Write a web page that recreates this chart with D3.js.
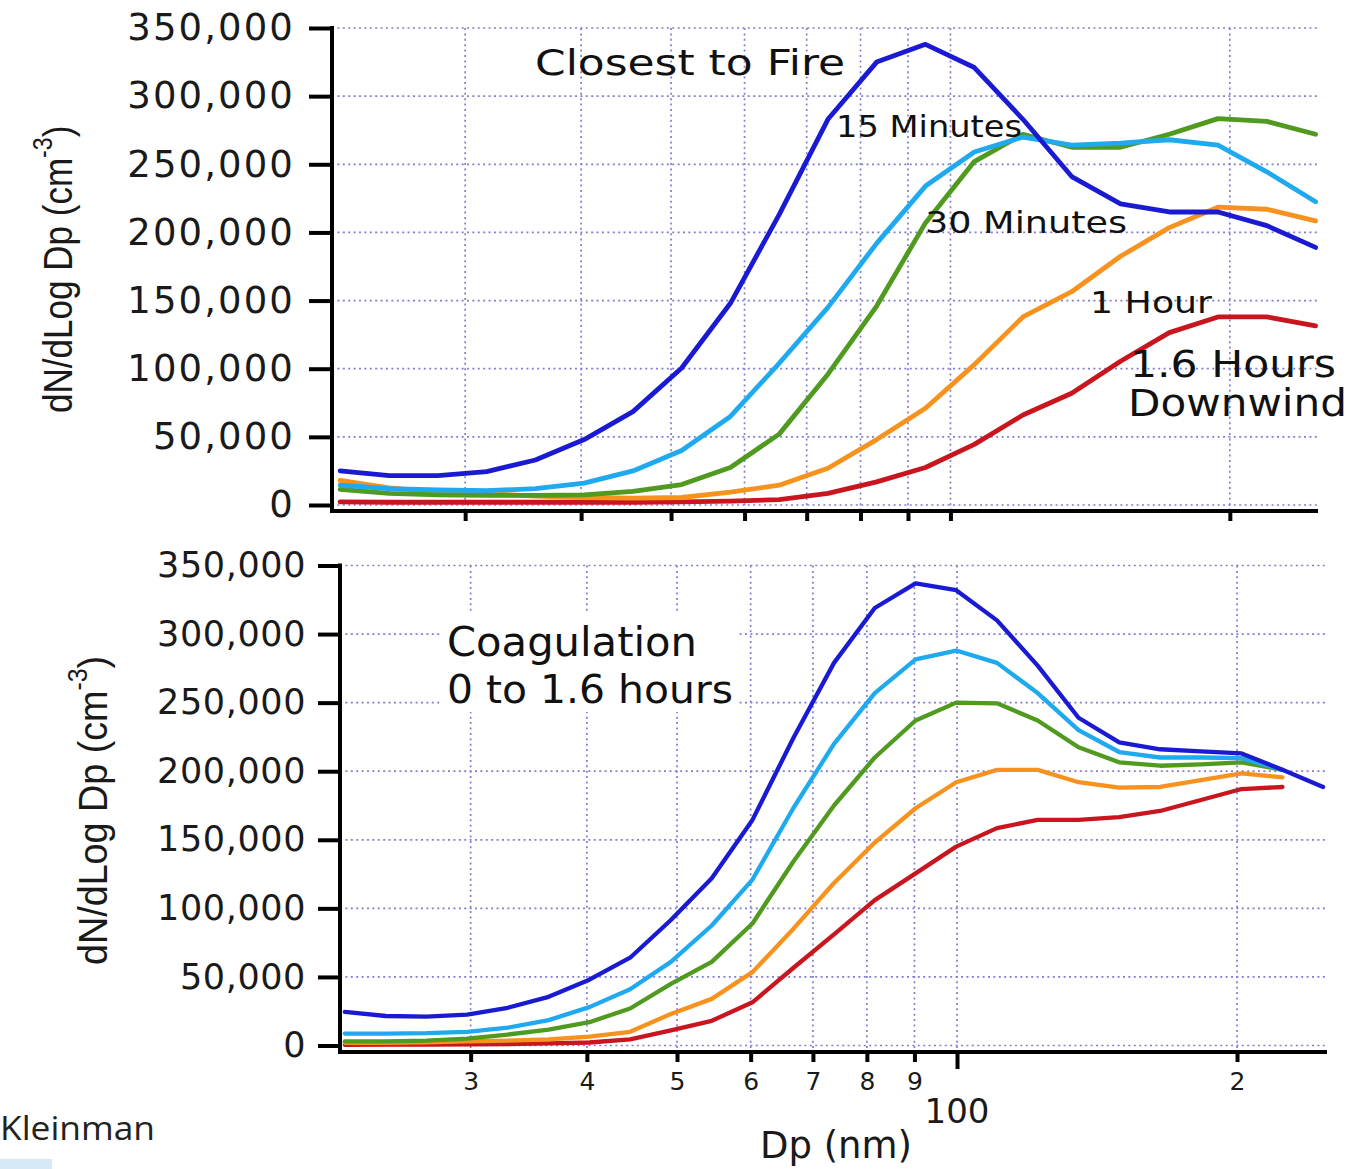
<!DOCTYPE html>
<html>
<head>
<meta charset="utf-8">
<script src="https://cdnjs.cloudflare.com/ajax/libs/d3/7.8.5/d3.min.js"></script>
<style>
  html, body { margin: 0; padding: 0; background: #ffffff; }
  svg { display: block; }
</style>
</head>
<body>
<svg id="chart" width="1351" height="1169"></svg>
<script>
// ---- Particle size distributions, dN/dLog Dp (cm^-3) versus mobility diameter Dp (nm) ----

// Upper panel: measured spectra at increasing distance downwind of the fire
const topDiameters = [22.0, 24.85, 28.04, 31.64, 35.71, 40.30, 45.49, 51.33, 57.93, 65.38, 73.79,
                      83.27, 93.99, 106.1, 119.7, 135.1, 152.5, 172.1, 194.2, 219.2, 247.4];
const topClosest = [25000, 21500, 21500, 24500, 33000, 48000, 68500, 100500, 148000, 213000, 283000,
                    325000, 338000, 321000, 283000, 241000, 221000, 215000, 215000, 205000, 189000];
const top15Minutes = [14500, 12000, 11000, 10500, 12000, 16000, 25000, 40000, 65000, 104000, 145000,
                      192000, 234000, 259000, 270000, 264000, 265500, 268000, 264000, 244500, 222500];
const top30Minutes = [11500, 8500, 7500, 7000, 7000, 7500, 10000, 15000, 27500, 52000, 96000,
                      146000, 207000, 252000, 272000, 262500, 262500, 272000, 283500, 281500, 272000];
const top1Hour = [18000, 12500, 9500, 8500, 6500, 5500, 5000, 5500, 9500, 14500, 27000,
                  48000, 71000, 103000, 138000, 156500, 182500, 203500, 218500, 217000, 208500];
const top16Hours = [2300, 2000, 2000, 2000, 2000, 2000, 2000, 2300, 2800, 4000, 8500,
                    17000, 27500, 44500, 66000, 82000, 105500, 126500, 138000, 138000, 131500];

// Lower panel: coagulation model, 0 to 1.6 hours
const bottomDiameters = [21.97, 24.31, 26.89, 29.74, 32.89, 36.39, 40.25, 44.52, 49.25, 54.49, 60.27,
                         66.67, 73.75, 81.58, 90.25, 99.8, 110.4, 122.1, 135.1, 149.4, 165.3,
                         182.9, 202.3, 223.8, 247.5];
const coag0 = [24500, 21500, 21000, 22500, 27500, 35500, 48000, 64000, 91500, 122000, 164500,
               224000, 279000, 319000, 337000, 332000, 310000, 277000, 239000, 221000, 216000,
               214500, 213000, 201000, 188500];
const coag1 = [8700, 8700, 9000, 10000, 13000, 18500, 28000, 41000, 61000, 87500, 121000,
               173000, 220000, 257000, 281500, 288000, 279000, 257000, 230000, 214000, 210000,
               210000, 209500, 201000];
const coag2 = [3000, 3000, 3600, 5000, 8000, 11600, 17000, 27000, 45000, 61000, 89000,
               134000, 175000, 210000, 237000, 250000, 249500, 237000, 217500, 206500, 204000,
               205000, 206500, 201000];
const coag3 = [2000, 2000, 2300, 3000, 3600, 4400, 6500, 10000, 23000, 34000, 53500,
               85000, 118500, 148000, 173000, 192000, 201000, 201000, 192000, 188000, 188500,
               193500, 198500, 195500];
const coag4 = [500, 600, 700, 900, 1100, 1500, 2200, 4400, 11000, 18000, 31500,
               56500, 81000, 106000, 125500, 145000, 158500, 164500, 164500, 166500, 171000,
               179000, 187000, 188500];

// Axis ticks
const yTickValues = [0, 50000, 100000, 150000, 200000, 250000, 300000, 350000];
const xTickValues = [30, 40, 50, 60, 70, 80, 90, 100, 200];
const xTickLabels = ["3", "4", "5", "6", "7", "8", "9", "", "2"];

const seriesColors = ["#1a1ad2", "#1fa9ee", "#4f9a1f", "#f7921e", "#c9151e"];
const gridColor = "#7f7fd4";
const numFont = "'DejaVu Sans', Verdana, sans-serif";
const titleFont = "'Liberation Sans', Arial, sans-serif";

const svg = d3.select("#chart");

function drawPanel(cfg, diameters, seriesList) {
  const x = d3.scaleLog().domain(cfg.xDomain).range([cfg.left, cfg.right]);
  const y = d3.scaleLinear().domain([0, 350000]).range([cfg.yZero, cfg.yTop]);
  const g = svg.append("g");

  // dotted grid
  const grid = g.append("g")
    .attr("stroke", gridColor)
    .attr("stroke-width", 1.7)
    .attr("stroke-dasharray", "2 3.4")
    .attr("fill", "none");
  grid.selectAll("line.h").data(yTickValues).join("line")
    .attr("class", "h")
    .attr("x1", cfg.left).attr("x2", cfg.right)
    .attr("y1", d => y(d)).attr("y2", d => y(d));
  grid.selectAll("line.v").data(xTickValues).join("line")
    .attr("class", "v")
    .attr("x1", d => x(d)).attr("x2", d => x(d))
    .attr("y1", y(350000)).attr("y2", cfg.axisY);

  // white box behind the panel annotation
  if (cfg.noteBox) {
    g.append("rect")
      .attr("x", cfg.noteBox[0]).attr("y", cfg.noteBox[1])
      .attr("width", cfg.noteBox[2]).attr("height", cfg.noteBox[3])
      .attr("fill", "#ffffff");
  }

  // size distribution curves (drawn from last to first so the first series sits on top)
  const line = d3.line().x(d => x(d[0])).y(d => y(d[1]));
  const curves = seriesList.map((vals, i) => ({
    color: seriesColors[i],
    pts: vals.map((v, j) => [diameters[j], v])
  })).reverse();
  g.append("g").selectAll("path").data(curves).join("path")
    .attr("d", d => line(d.pts))
    .attr("fill", "none")
    .attr("stroke", d => d.color)
    .attr("stroke-width", cfg.lineWidth)
    .attr("stroke-linejoin", "round")
    .attr("stroke-linecap", "round");

  // y axis
  const yAxis = g.append("g")
    .attr("transform", `translate(${cfg.left},0)`)
    .call(d3.axisLeft(y).tickValues(yTickValues).tickSize(cfg.yTickLen)
      .tickPadding(cfg.yTickPad).tickFormat(d3.format(",")));
  yAxis.select(".domain").remove();
  yAxis.selectAll(".tick line").attr("stroke", "#000").attr("stroke-width", 4);
  yAxis.selectAll(".tick text")
    .attr("font-family", numFont)
    .attr("font-size", cfg.yFontSize)
    .attr("letter-spacing", cfg.yLetterSpacing)
    .attr("fill", "#1a1a1a");

  // x axis
  const xAxis = g.append("g")
    .attr("transform", `translate(0,${cfg.axisY})`)
    .call(d3.axisBottom(x).tickValues(xTickValues).tickSize(10).tickPadding(10)
      .tickFormat((d, i) => cfg.xLabels ? xTickLabels[i] : ""));
  xAxis.select(".domain").remove();
  xAxis.selectAll(".tick line")
    .attr("stroke", "#000").attr("stroke-width", 4)
    .attr("y2", d => (cfg.xLabels && d === 100) ? 17 : 10);
  xAxis.selectAll(".tick text")
    .attr("font-family", numFont)
    .attr("font-size", 25)
    .attr("fill", "#1a1a1a");

  // frame lines
  g.append("line")
    .attr("x1", cfg.left).attr("x2", cfg.left)
    .attr("y1", y(350000) - 2).attr("y2", cfg.axisY + 2)
    .attr("stroke", "#000").attr("stroke-width", 4);
  g.append("line")
    .attr("x1", cfg.left - 2).attr("x2", cfg.right)
    .attr("y1", cfg.axisY).attr("y2", cfg.axisY)
    .attr("stroke", "#000").attr("stroke-width", 4);

  // rotated y-axis title with superscript
  const t = g.append("text")
    .attr("transform", `translate(${cfg.titleX},${cfg.titleY}) rotate(-90) scale(${cfg.titleScale},1)`)
    .attr("font-family", titleFont)
    .attr("font-size", 41)
    .attr("fill", "#1a1a1a");
  t.append("tspan").text("dN/dLog Dp (cm");
  t.append("tspan").attr("dy", -20).attr("font-size", 27).text("-3");
  t.append("tspan").attr("dy", 20).text(")");

  return { x, y, g };
}

// ---- upper panel ----
const topPanel = drawPanel({
  xDomain: [21.56, 248.9], left: 332, right: 1318,
  yZero: 505, yTop: 28, axisY: 511,
  lineWidth: 4.8, yTickLen: 23, yTickPad: 14, yFontSize: 37, yLetterSpacing: 2.1,
  xLabels: false, titleX: 72, titleY: 413, titleScale: 0.855
}, topDiameters, [topClosest, top15Minutes, top30Minutes, top1Hour, top16Hours]);

// ---- lower panel ----
const bottomPanel = drawPanel({
  xDomain: [21.71, 249.9], left: 340, right: 1327,
  yZero: 1045.5, yTop: 565.5, axisY: 1052,
  lineWidth: 4.3, yTickLen: 22, yTickPad: 12, yFontSize: 35, yLetterSpacing: 0.6,
  xLabels: true, noteBox: [441, 614, 296, 98],
  titleX: 107, titleY: 965, titleScale: 0.92
}, bottomDiameters, [coag0, coag1, coag2, coag3, coag4]);

// ---- annotations ----
function label(txt, x, y, size, len, anchor) {
  svg.append("text")
    .attr("x", x).attr("y", y)
    .attr("font-family", numFont)
    .attr("font-size", size)
    .attr("text-anchor", anchor || "start")
    .attr("fill", "#111")
    .attr("textLength", len)
    .attr("lengthAdjust", "spacingAndGlyphs")
    .text(txt);
}
label("Closest to Fire", 535, 75, 36, 310);
label("15 Minutes", 836, 137, 30, 186);
label("30 Minutes", 925, 233, 31, 202);
label("1 Hour", 1090, 313, 31, 122);
label("1.6 Hours", 1130, 377, 37, 206);
label("Downwind", 1128, 416, 37, 219);
label("Coagulation", 447, 656, 40, 250);
label("0 to 1.6 hours", 447, 703, 39, 286);

// major decade label and x-axis title
svg.append("text")
  .attr("x", bottomPanel.x(100)).attr("y", 1123)
  .attr("text-anchor", "middle")
  .attr("font-family", numFont).attr("font-size", 34).attr("fill", "#1a1a1a")
  .text("100");
svg.append("text")
  .attr("x", 836).attr("y", 1158)
  .attr("text-anchor", "middle")
  .attr("font-family", numFont).attr("font-size", 37).attr("fill", "#1a1a1a")
  .attr("textLength", 152).attr("lengthAdjust", "spacingAndGlyphs")
  .text("Dp (nm)");

// attribution
svg.append("text")
  .attr("x", 0).attr("y", 1140)
  .attr("font-family", "'Open Sans', 'Noto Sans', sans-serif")
  .attr("font-size", 32).attr("fill", "#222")
  .attr("textLength", 155).attr("lengthAdjust", "spacingAndGlyphs")
  .text("Kleinman");
svg.append("rect")
  .attr("x", 0).attr("y", 1159).attr("width", 52).attr("height", 10)
  .attr("fill", "#d9e8f6");
</script>
</body>
</html>
